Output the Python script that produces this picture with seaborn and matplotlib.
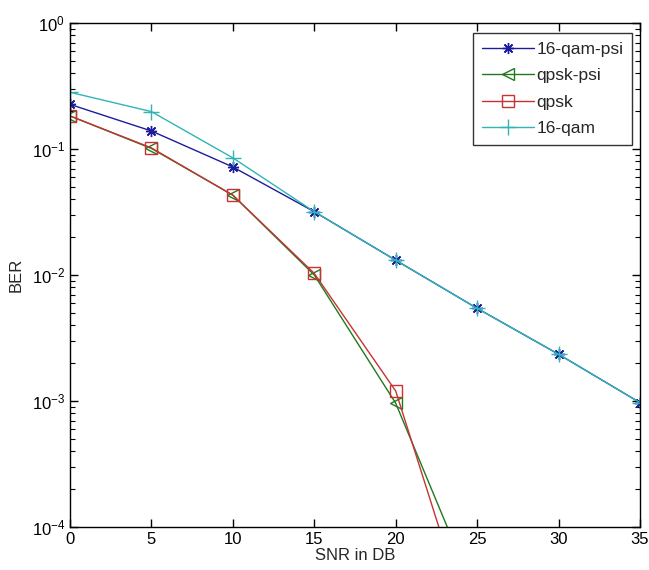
import matplotlib
matplotlib.use("Agg")
import matplotlib.pyplot as plt
import seaborn as sns
import numpy as np
import pandas as pd
from matplotlib.ticker import LogLocator, NullFormatter

# ---- data ----
snr = [0, 5, 10, 15, 20, 25, 30, 35]
qam16_psi = [0.226, 0.139, 0.072, 0.0318, 0.0131, 0.00544, 0.00235, 0.00097]
qpsk_psi_snr = [0, 5, 10, 15, 20, 25]
qpsk_psi = [0.183, 0.101, 0.043, 0.0100, 0.00096, 2.7e-5]
qpsk_snr = [0, 5, 10, 15, 20, 25]
qpsk = [0.183, 0.102, 0.043, 0.0103, 0.0012, 1.1e-5]
qam16 = [0.282, 0.198, 0.085, 0.0318, 0.0131, 0.00544, 0.00235, 0.00097]

series_names = ["16-qam-psi", "qpsk-psi", "qpsk", "16-qam"]

sns.set_style("ticks")
plt.rcParams['font.family'] = ['Liberation Sans Narrow', 'Liberation Sans', 'DejaVu Sans']
plt.rcParams['mathtext.fontset'] = 'custom'
plt.rcParams['mathtext.rm'] = 'Liberation Sans'
plt.rcParams['mathtext.it'] = 'Liberation Sans'
plt.rcParams['mathtext.default'] = 'regular'

fig = plt.figure(figsize=(6.49, 5.70), dpi=100)
ax = fig.add_axes([70/649, 43/570, 570/649, 504/570])

styles = [
    (snr, qam16_psi, "#1c1c9c", (8, 2, 0), 8, series_names[0]),
    (qpsk_psi_snr, qpsk_psi, "#1f7a1f", "<", 8.5, series_names[1]),
    (qpsk_snr, qpsk, "#c83232", "s", 9, series_names[2]),
    (snr, qam16, "#2fb5b5", "+", 11, series_names[3]),
]
for xs, ys, col, mk, ms, lab in styles:
    df = pd.DataFrame({"SNR": xs, "BER": ys})
    sns.lineplot(data=df, x="SNR", y="BER", ax=ax, color=col, marker=mk,
                 markersize=ms, markerfacecolor="none", markeredgecolor=col,
                 markeredgewidth=1.0, linewidth=1.0, label=lab)

ax.set_yscale("log")
ax.set_xlim(0, 35)
ax.set_ylim(1e-4, 1)
ax.set_xticks([0, 5, 10, 15, 20, 25, 30, 35])
ax.yaxis.set_major_locator(LogLocator(base=10, numticks=10))
ax.yaxis.set_minor_locator(LogLocator(base=10, subs=np.arange(2, 10), numticks=20))
ax.yaxis.set_minor_formatter(NullFormatter())
ax.tick_params(which="both", direction="in", top=True, right=True, colors="black",
               labelsize=12)
ax.tick_params(which="major", length=6, width=1)
ax.tick_params(which="minor", length=3.5, width=0.8)
for sp in ax.spines.values():
    sp.set_visible(True)
    sp.set_color("black")
    sp.set_linewidth(1.0)

ax.set_xlabel("SNR in DB", fontsize=12, labelpad=1)
ax.set_ylabel("BER", fontsize=12, labelpad=6)

leg = ax.legend(loc="upper right", bbox_to_anchor=(1 - 8/570, 1 - 10/504),
                borderaxespad=0, frameon=True, fancybox=False, fontsize=12.5,
                handlelength=3.0, handletextpad=0.15, labelspacing=0.65,
                borderpad=0.5)
leg.get_frame().set_edgecolor("black")
leg.get_frame().set_linewidth(1.0)

fig.savefig("out.png", dpi=100, facecolor="white")
